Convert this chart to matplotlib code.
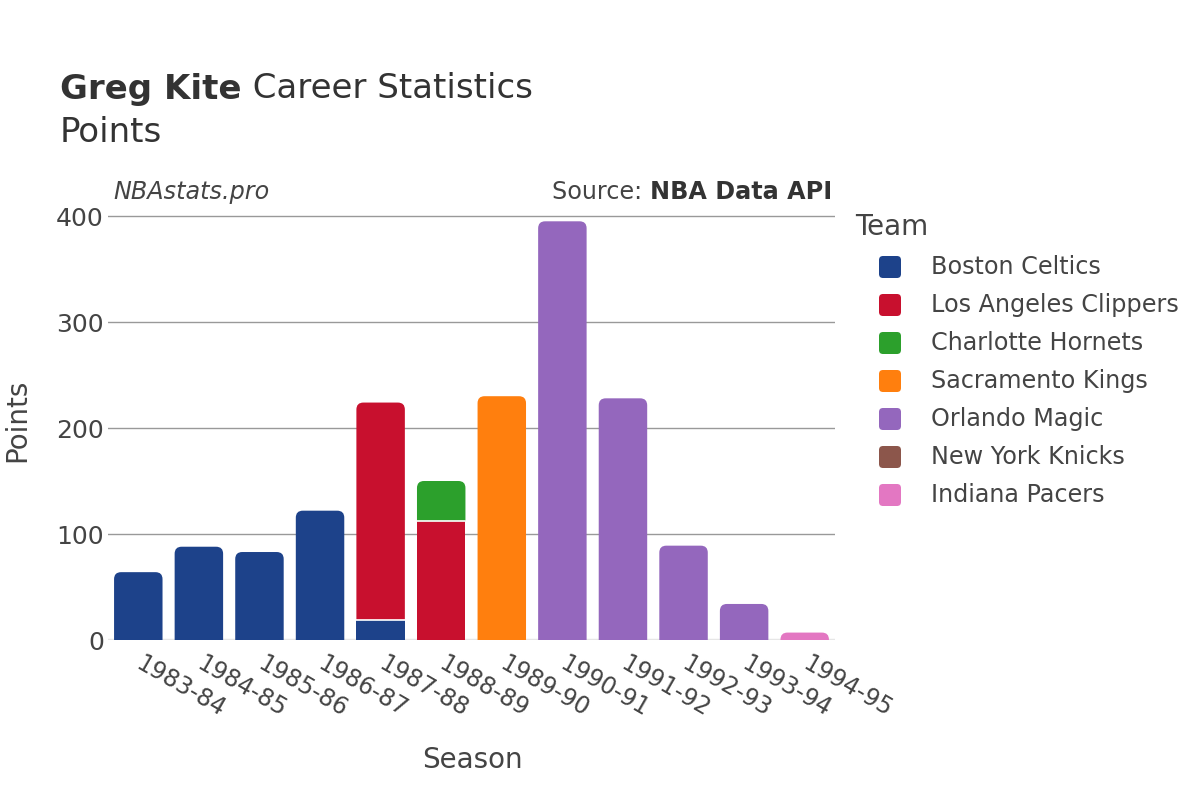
import matplotlib
matplotlib.use("Agg")
import matplotlib.pyplot as plt
import matplotlib.transforms as mtransforms
from matplotlib.patches import FancyBboxPatch, Rectangle, PathPatch
from matplotlib.path import Path

# ---- data ----
seasons = ["1983-84", "1984-85", "1985-86", "1986-87", "1987-88", "1988-89",
           "1989-90", "1990-91", "1991-92", "1992-93", "1993-94", "1994-95"]
teams = ["Boston Celtics", "Los Angeles Clippers", "Charlotte Hornets",
         "Sacramento Kings", "Orlando Magic", "New York Knicks", "Indiana Pacers"]
team_colors = ["#1d428a", "#c8102e", "#2ca02c", "#ff7f0e", "#9467bd", "#8c564b", "#e377c2"]

boston = [64, 88, 83, 122, 19, 0, 0, 0, 0, 0, 0, 0]
clippers = [0, 0, 0, 0, 205, 112, 0, 0, 0, 0, 0, 0]
hornets = [0, 0, 0, 0, 0, 38, 0, 0, 0, 0, 0, 0]
kings = [0, 0, 0, 0, 0, 0, 230, 0, 0, 0, 0, 0]
magic = [0, 0, 0, 0, 0, 0, 0, 395, 228, 89, 34, 0]
knicks = [0, 0, 0, 0, 0, 0, 0, 0, 0, 0, 0, 0]
pacers = [0, 0, 0, 0, 0, 0, 0, 0, 0, 0, 0, 7]
series = [boston, clippers, hornets, kings, magic, knicks, pacers]

TEXT = "#444444"
W, H = 1200, 800


def top_rounded_bar(x0, y0, w, h, rx, ry):
    ry = min(ry, h)
    x1, y1 = x0 + w, y0 + h
    verts = [(x0, y0), (x1, y0), (x1, y1 - ry), (x1, y1), (x1 - rx, y1),
             (x0 + rx, y1), (x0, y1), (x0, y1 - ry), (x0, y0)]
    codes = [Path.MOVETO, Path.LINETO, Path.LINETO, Path.CURVE3, Path.CURVE3,
             Path.LINETO, Path.CURVE3, Path.CURVE3, Path.CLOSEPOLY]
    return Path(verts, codes)


fig = plt.figure(figsize=(12, 8), dpi=100)
ax = fig.add_axes([108 / W, 1 - 640 / H, (835 - 108) / W, (640 - 200) / H])

ymax = 400 * 440 / 424
ax.set_xlim(-0.5, len(seasons) - 0.5)
ax.set_ylim(0, ymax)

px_x = (835 - 108) / len(seasons)
px_y = 424 / 400
r_px = 7
rx = r_px / px_x
ry = r_px / px_y
bw = 0.8

for i in range(len(seasons)):
    vals = [s[i] for s in series]
    nz = [k for k, v in enumerate(vals) if v > 0]
    bottom = 0
    for k in nz:
        v = vals[k]
        x0 = i - bw / 2
        if k == nz[-1]:
            ax.add_patch(PathPatch(top_rounded_bar(x0, bottom, bw, v, rx, ry),
                                   fc=team_colors[k], ec="none", zorder=3))
        else:
            ax.add_patch(Rectangle((x0, bottom), bw, v, fc=team_colors[k],
                                   ec="none", zorder=3))
        if bottom > 0:
            ax.plot([x0, x0 + bw], [bottom, bottom], color="white", lw=1.2, zorder=4)
        bottom += v

for y in [100, 200, 300, 400]:
    ax.axhline(y, color="#999999", lw=1, zorder=1)
ax.axhline(0, color="#e6e6e6", lw=2.5, zorder=2)

for s in ax.spines.values():
    s.set_visible(False)
ax.set_yticks([0, 100, 200, 300, 400])
ax.set_yticklabels(["0", "100", "200", "300", "400"])
ax.set_xticks(range(len(seasons)))
ax.set_xticklabels(seasons, rotation=-30, ha="left", va="top", rotation_mode="anchor")
ax.tick_params(axis="both", length=0, colors=TEXT)
ax.tick_params(axis="y", labelsize=18, pad=3)
ax.tick_params(axis="x", labelsize=17, pad=10)
shift = mtransforms.ScaledTranslation(6 / 100, 2 / 100, fig.dpi_scale_trans)
for lbl in ax.get_xticklabels():
    lbl.set_transform(lbl.get_transform() + shift)

fig.text(17 / W, 1 - 420 / H, "Points", rotation=90, ha="center", va="center",
         fontsize=20, color=TEXT)
fig.text(472 / W, 1 - 760 / H, "Season", ha="center", va="center",
         fontsize=20, color=TEXT)

# title
fig.canvas.draw()
rend = fig.canvas.get_renderer()
t1 = fig.text(60 / W, 1 - 89 / H, "Greg Kite", fontsize=24.5, fontweight="bold",
              color="#333333", va="center")
bb = t1.get_window_extent(rend)
fig.text(bb.x1 / W, 1 - 89 / H, " Career Statistics", fontsize=24.5,
         color="#333333", va="center")
fig.text(60 / W, 1 - 132 / H, "Points", fontsize=24.5, color="#333333", va="center")

fig.text(113 / W, 1 - 192 / H, "NBAstats.pro", fontsize=17.2, style="italic",
         color=TEXT, va="center")
t2 = fig.text(832 / W, 1 - 192 / H, "NBA Data API", fontsize=17.2, fontweight="bold",
              color="#333333", va="center", ha="right")
bb2 = t2.get_window_extent(rend)
fig.text(bb2.x0 / W, 1 - 192 / H, "Source: ", fontsize=17.2, color=TEXT,
         va="center", ha="right")

# legend
fig.text(855 / W, 1 - 227 / H, "Team", fontsize=20, color=TEXT, va="center")
for j, (name, col) in enumerate(zip(teams, team_colors)):
    yc = 267 + j * 38
    sz = 22
    fig.patches.append(FancyBboxPatch(((879 + 3) / 100, (H - yc - sz / 2 + 3) / 100),
                                      (sz - 6) / 100, (sz - 6) / 100,
                                      boxstyle="round,pad=0.03,rounding_size=0.04",
                                      transform=fig.dpi_scale_trans,
                                      fc=col, ec="none", figure=fig))
    fig.text(931 / W, 1 - yc / H, name, fontsize=17.2, color=TEXT, va="center")

fig.savefig("out.png", dpi=100, facecolor="white")
